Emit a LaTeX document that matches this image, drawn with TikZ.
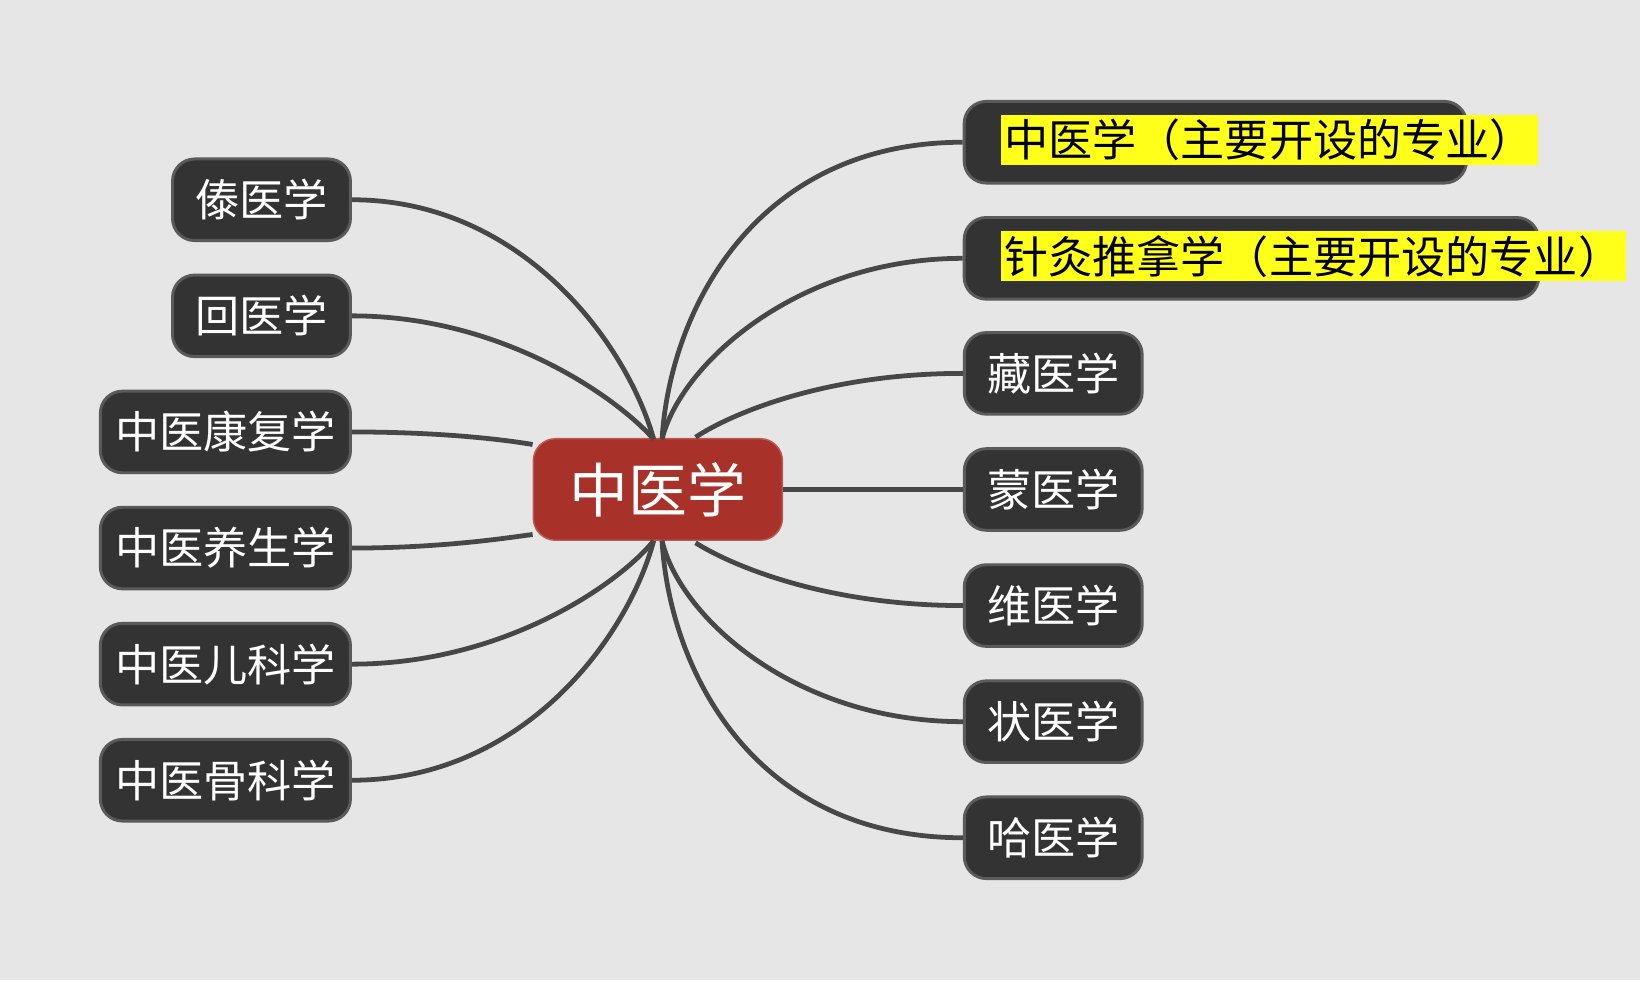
\documentclass[tikz,border=0pt]{standalone}
\usepackage{fontspec}
\newfontfamily\cjk{Noto Sans CJK SC}
\definecolor{bg}{HTML}{E6E6E6}
\definecolor{box}{HTML}{333333}
\definecolor{boxb}{HTML}{5A5A5A}
\definecolor{red1}{HTML}{A8322A}
\definecolor{hl}{HTML}{FFFF1A}
\begin{document}
\begin{tikzpicture}[x=0.01cm,y=-0.01cm,
 leaf/.style={draw=boxb,line width=0.8pt,fill=box,rounded corners=6pt,text=white,font=\cjk\fontsize{12}{14}\selectfont,minimum height=0.78cm,inner sep=0pt},
 hlt/.style={fill=hl,text=black,inner sep=1pt,font=\cjk\fontsize{12}{14}\selectfont},
 conn/.style={draw=box!90,line width=1.3pt}]
\fill[bg] (0,0) rectangle (1568,937);
\useasboundingbox (0,0) rectangle (1568,937);
\node[fill=red1,draw=red1!80!white,rounded corners=6pt,text=white,font=\cjk\fontsize{16}{18}\selectfont,minimum width=2.38cm,minimum height=0.97cm] (c) at (629,468) {中医学};
% left
\node[leaf,minimum width=1.70cm] (l1) at (250,191) {傣医学};
\node[leaf,minimum width=1.70cm] (l2) at (250,302) {回医学};
\node[leaf,minimum width=2.39cm] (l3) at (215.5,413) {中医康复学};
\node[leaf,minimum width=2.39cm] (l4) at (215.5,524) {中医养生学};
\node[leaf,minimum width=2.39cm] (l5) at (215.5,635) {中医儿科学};
\node[leaf,minimum width=2.39cm] (l6) at (215.5,746) {中医骨科学};
% right
\node[leaf,minimum width=4.80cm] (r1) at (1162,136) {};
\node[hlt,anchor=west] (r1t) at (956,134) {中医学（主要开设的专业）};
\node[leaf,minimum width=5.49cm] (r2) at (1196.5,247) {};
\node[hlt,anchor=west] (r2t) at (956,245) {针灸推拿学（主要开设的专业）};
\node[leaf,minimum width=1.70cm] (r3) at (1007,357) {藏医学};
\node[leaf,minimum width=1.70cm] (r4) at (1007,468) {蒙医学};
\node[leaf,minimum width=1.70cm] (r5) at (1007,579) {维医学};
\node[leaf,minimum width=1.70cm] (r6) at (1007,690) {状医学};
\node[leaf,minimum width=1.70cm] (r7) at (1007,801) {哈医学};
\coordinate (ct) at (625,420);
\coordinate (ct2) at (633,420);
\coordinate (ct3) at (665,418);
\coordinate (cb) at (625,517);
\coordinate (cb2) at (633,517);
\coordinate (cb3) at (665,519);
\begin{scope}[on background layer/.try]
\end{scope}
\draw[conn] (l1.east) .. controls (500,191) and (600,330) .. (ct);
\draw[conn] (l2.east) .. controls (480,302) and (590,380) .. (ct);
\draw[conn] (l3.east) .. controls (420,413) and (480,420) .. (c.west|-0,425);
\draw[conn] (l4.east) .. controls (420,524) and (480,515) .. (c.west|-0,511);
\draw[conn] (l5.east) .. controls (480,635) and (590,560) .. (cb);
\draw[conn] (l6.east) .. controls (500,746) and (600,610) .. (cb);
\draw[conn] (r1.west) .. controls (720,136) and (640,300) .. (ct2);
\draw[conn] (r2.west) .. controls (760,247) and (650,350) .. (ct2);
\draw[conn] (r3.west) .. controls (790,357) and (700,395) .. (ct3);
\draw[conn] (c.east) -- (r4.west);
\draw[conn] (r5.west) .. controls (790,579) and (700,541) .. (cb3);
\draw[conn] (r6.west) .. controls (760,690) and (650,590) .. (cb2);
\draw[conn] (r7.west) .. controls (720,801) and (640,640) .. (cb2);
\end{tikzpicture}
\end{document}
